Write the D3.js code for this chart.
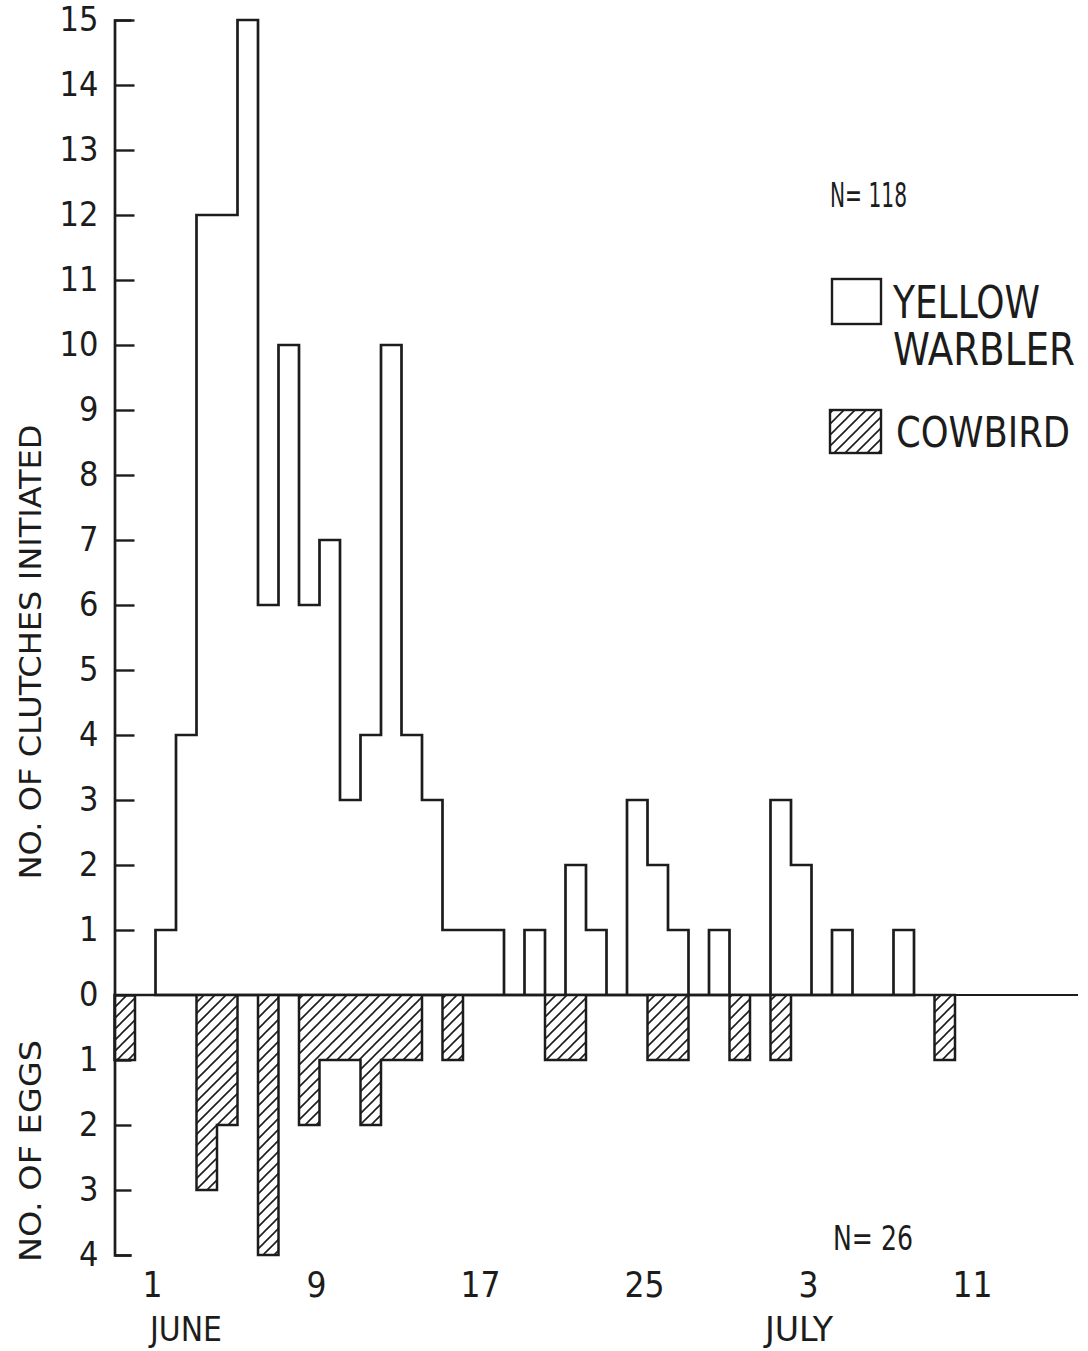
<!DOCTYPE html>
<html>
<head>
<meta charset="utf-8">
<script src="https://cdn.jsdelivr.net/npm/d3@7"></script>
<style>
  html, body { margin: 0; padding: 0; background: #ffffff; }
  svg { display: block; }
  text { font-family: "Liberation Sans Narrow", "DejaVu Sans Condensed", "Liberation Sans", sans-serif; fill: #1c1c1c; }
</style>
</head>
<body>
<svg id="chart" width="1088" height="1351"></svg>
<script>
// Day numbers are counted from June 1 = 1 (so May 30 = -1, July 1 = 31).
// Each bin covers one day, from day d to day d + 1.

// Yellow Warbler clutches initiated per day, days 1..37
const warblerDays = d3.range(1, 38);
const warblerClutches = [1, 4, 12, 12, 15, 6, 10, 6, 7, 3,
                         4, 10, 4, 3, 1, 1, 1, 0, 1, 0,
                         2, 1, 0, 3, 2, 1, 0, 1, 0, 0,
                         3, 2, 0, 1, 0, 0, 1];

// Cowbird eggs laid, only the days with eggs
const cowbirdDays = [-1, 3, 4, 6, 8, 9, 10, 11, 12, 13, 15, 20, 21, 25, 26, 29, 31, 39];
const cowbirdEggs = [1, 3, 2, 4, 2, 1, 1, 2, 1, 1, 1, 1, 1, 1, 1, 1, 1, 1];

// Axis ticks and labels
const dayTicks = [1, 9, 17, 25, 33, 41];
const dayTickLabels = ["1", "9", "17", "25", "3", "11"];
const monthLabels = ["JUNE", "JULY"];
const countTicks = d3.range(-4, 16);

const svg = d3.select("#chart");
const ink = "#1c1c1c";

const x = d3.scaleLinear().domain([-1, 46]).range([114.5, 1078]);
const y = d3.scaleLinear().domain([-4, 15]).range([1255, 20]);

// Hatching for cowbird bars
const defs = svg.append("defs");
const hatch = defs.append("pattern")
  .attr("id", "hatch")
  .attr("patternUnits", "userSpaceOnUse")
  .attr("width", 11).attr("height", 11);
hatch.append("rect").attr("width", 11).attr("height", 11).attr("fill", "#fff");
hatch.append("path")
  .attr("d", "M0,11 L11,0 M-2,2 L2,-2 M9,13 L13,9")
  .attr("stroke", ink).attr("stroke-width", 1.6);

// Build a full day series (zeros for missing days) plus a closing point
function stepSeries(days, values, sign) {
  const lo = d3.min(days), hi = d3.max(days);
  const byDay = new Map(days.map((d, i) => [d, values[i]]));
  const pts = d3.range(lo, hi + 1).map(d => ({ day: d, v: sign * (byDay.get(d) || 0) }));
  pts.push({ day: hi + 1, v: pts[pts.length - 1].v });
  return pts;
}

const area = d3.area()
  .curve(d3.curveStepAfter)
  .x(d => x(d.day))
  .y0(y(0))
  .y1(d => y(d.v));

// Yellow Warbler histogram (open outline)
svg.append("path")
  .datum(stepSeries(warblerDays, warblerClutches, 1))
  .attr("d", area)
  .attr("fill", "#fff")
  .attr("stroke", ink)
  .attr("stroke-width", 2.7)
  .attr("stroke-linejoin", "miter");

// Cowbird histogram (hatched, hanging below zero)
svg.append("path")
  .datum(stepSeries(cowbirdDays, cowbirdEggs, -1))
  .attr("d", area)
  .attr("fill", "url(#hatch)")
  .attr("stroke", ink)
  .attr("stroke-width", 2.5);

// Zero baseline
svg.append("line")
  .attr("x1", x(-1)).attr("x2", x(46))
  .attr("y1", y(0)).attr("y2", y(0))
  .attr("stroke", ink).attr("stroke-width", 2.2);

// Vertical count axis: ticks point inward, labels on the left
const yAxis = d3.axisLeft(y)
  .tickValues(countTicks)
  .tickFormat(v => String(Math.abs(v)))
  .tickSizeInner(-20)
  .tickSizeOuter(-17)
  .tickPadding(16);

const gy = svg.append("g")
  .attr("transform", `translate(${x(-1)},0)`)
  .call(yAxis);
gy.select(".domain").attr("stroke", ink).attr("stroke-width", 2.7);
gy.selectAll(".tick line").attr("stroke", ink).attr("stroke-width", 2.4);
gy.selectAll(".tick").filter(v => v < 0).select("line").attr("x2", 17);
gy.selectAll(".tick text")
  .attr("fill", ink)
  .style("font-size", "34px")
  .style("font-family", null);

// Day labels along the bottom
svg.append("g").selectAll("text")
  .data(dayTicks)
  .join("text")
  .attr("x", d => x(d) - 3)
  .attr("y", 1297)
  .attr("text-anchor", "middle")
  .style("font-size", "35px")
  .text((d, i) => dayTickLabels[i]);

svg.append("text")
  .attr("x", 150).attr("y", 1341)
  .attr("textLength", 72).attr("lengthAdjust", "spacingAndGlyphs")
  .style("font-size", "33px")
  .text(monthLabels[0]);
svg.append("text")
  .attr("x", 765).attr("y", 1341)
  .attr("textLength", 68).attr("lengthAdjust", "spacingAndGlyphs")
  .style("font-size", "33px")
  .text(monthLabels[1]);

// Axis titles
svg.append("text")
  .attr("transform", "translate(41,652) rotate(-90)")
  .attr("text-anchor", "middle")
  .attr("textLength", 455).attr("lengthAdjust", "spacingAndGlyphs")
  .style("font-size", "31px")
  .text("NO. OF CLUTCHES INITIATED");
svg.append("text")
  .attr("transform", "translate(41,1151) rotate(-90)")
  .attr("text-anchor", "middle")
  .attr("textLength", 222).attr("lengthAdjust", "spacingAndGlyphs")
  .style("font-size", "31px")
  .text("NO. OF EGGS");

// Sample sizes
svg.append("text")
  .attr("x", 830).attr("y", 207)
  .attr("textLength", 77).attr("lengthAdjust", "spacingAndGlyphs")
  .style("font-size", "34px")
  .text("N= 118");
svg.append("text")
  .attr("x", 833).attr("y", 1250)
  .attr("textLength", 80).attr("lengthAdjust", "spacingAndGlyphs")
  .style("font-size", "34px")
  .text("N= 26");

// Legend
const legend = svg.append("g");
legend.append("rect")
  .attr("x", 832).attr("y", 279).attr("width", 49).attr("height", 45)
  .attr("fill", "#fff").attr("stroke", ink).attr("stroke-width", 2.4);
legend.append("text")
  .attr("x", 893).attr("y", 318)
  .attr("textLength", 147).attr("lengthAdjust", "spacingAndGlyphs")
  .style("font-size", "44px")
  .text("YELLOW");
legend.append("text")
  .attr("x", 893).attr("y", 365)
  .attr("textLength", 182).attr("lengthAdjust", "spacingAndGlyphs")
  .style("font-size", "44px")
  .text("WARBLER");
legend.append("rect")
  .attr("x", 830).attr("y", 410).attr("width", 51).attr("height", 43)
  .attr("fill", "url(#hatch)").attr("stroke", ink).attr("stroke-width", 2.4);
legend.append("text")
  .attr("x", 896).attr("y", 447)
  .attr("textLength", 174).attr("lengthAdjust", "spacingAndGlyphs")
  .style("font-size", "42px")
  .text("COWBIRD");
</script>
</body>
</html>
